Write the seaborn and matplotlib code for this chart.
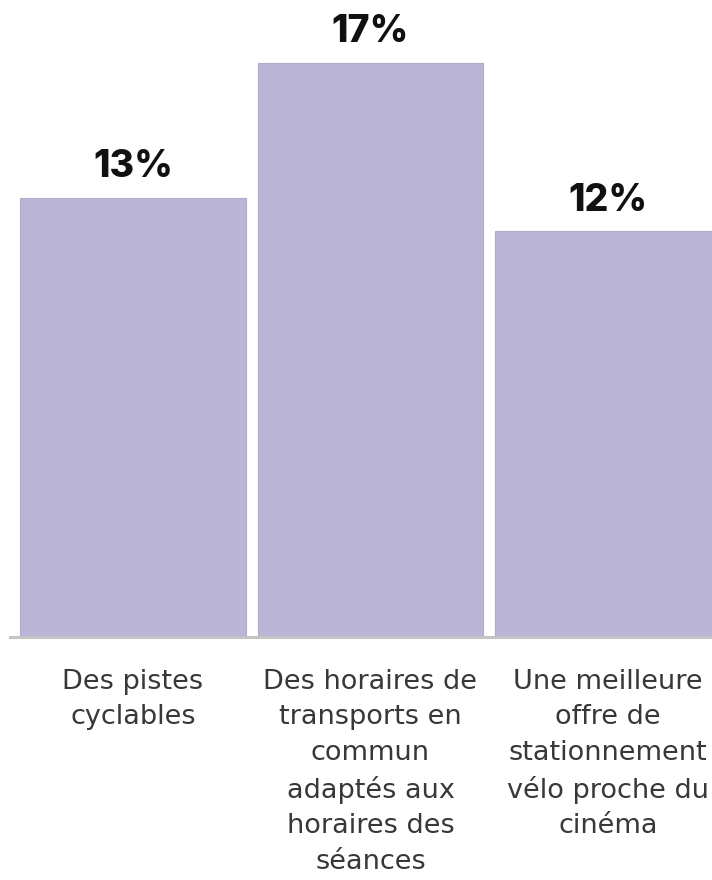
import matplotlib
matplotlib.use("Agg")
import matplotlib.pyplot as plt
import seaborn as sns
import pandas as pd

categories = [
    "Des pistes\ncyclables",
    "Des horaires de\ntransports en\ncommun\nadaptés aux\nhoraires des\nséances",
    "Une meilleure\noffre de\nstationnement\nvélo proche du\ncinéma",
]
values = [13, 17, 12]
value_labels = ["13%", "17%", "12%"]

sns.set_theme(style="white")
plt.rcParams["font.family"] = ["Inter", "DejaVu Sans"]

df = pd.DataFrame({"categorie": categories, "valeur": values})

fig = plt.figure(figsize=(7.12, 8.8), dpi=100)
ax = fig.add_axes([10 / 712, 243 / 880, 702 / 712, 637 / 880])

sns.barplot(data=df, x="categorie", y="valeur", order=categories,
            color="#BBB5D8", saturation=1, width=0.95,
            edgecolor="#B0AACB", linewidth=0.8, ax=ax)

ax.set_xlim(-0.518, 2.438)
ax.set_ylim(0, 18.85)

for cont in ax.containers:
    ax.bar_label(cont, labels=value_labels, padding=9, fontsize=27,
                 fontweight="heavy", color="#111111", clip_on=False)

sns.despine(ax=ax, left=True, top=True, right=True)
ax.spines["bottom"].set_color("#C4C4C4")
ax.spines["bottom"].set_linewidth(2.2)
ax.set_yticks([])
ax.set_xlabel("")
ax.set_ylabel("")
ax.tick_params(axis="x", length=0, pad=23)
for lbl in ax.get_xticklabels():
    lbl.set_fontfamily("DejaVu Sans")
    lbl.set_fontsize(19.5)
    lbl.set_color("#383838")
    lbl.set_linespacing(1.47)
    lbl.set_verticalalignment("top")

fig.savefig("out.png", dpi=100, facecolor="white")
